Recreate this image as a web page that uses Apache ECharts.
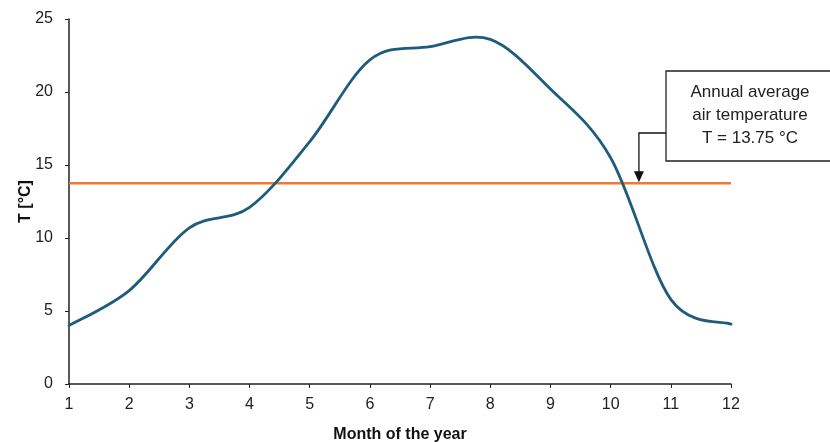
<!DOCTYPE html>
<html>
<head>
<meta charset="utf-8">
<script src="https://cdn.jsdelivr.net/npm/echarts@6/dist/echarts.min.js"></script>
<style>
html,body{margin:0;padding:0;background:#fff;}
#c{width:830px;height:442px;}
</style>
</head>
<body>
<div id="c"></div>
<script>
const months = [1,2,3,4,5,6,7,8,9,10,11,12];
const temperature = [4.0, 6.4, 10.7, 12.1, 16.6, 22.2, 23.1, 23.6, 20.2, 15.5, 5.8, 4.1];
const annualAverage = 13.75;
const yTicks = [0,5,10,15,20,25];
const annotationLines = ['Annual average', 'air temperature', 'T = 13.75 °C'];
const arrowMonth = 10.47;

const tempData = months.map((m,i)=>[m, temperature[i]]);
const avgData = [[months[0], annualAverage],[months[months.length-1], annualAverage]];

const chart = echarts.init(document.getElementById('c'), null, {renderer:'canvas'});
const tickFont = {fontFamily:'"Liberation Sans",Arial,sans-serif', fontSize:16, color:'#222'};

// Smooth curve (Catmull-Rom style, like spreadsheet smoothing) drawn through the axis scales
function renderSmooth(params, api){
  if (params.dataIndex !== 0) return null;
  const pts = tempData.map(d => api.coord(d));
  const n = pts.length;
  let path = 'M' + pts[0][0] + ' ' + pts[0][1];
  for (let i = 0; i < n - 1; i++){
    const p0 = pts[Math.max(i-1,0)], p1 = pts[i], p2 = pts[i+1], p3 = pts[Math.min(i+2,n-1)];
    const c1 = [p1[0] + (p2[0]-p0[0])/6, p1[1] + (p2[1]-p0[1])/6];
    const c2 = [p2[0] - (p3[0]-p1[0])/6, p2[1] - (p3[1]-p1[1])/6];
    path += ' C' + c1[0] + ' ' + c1[1] + ' ' + c2[0] + ' ' + c2[1] + ' ' + p2[0] + ' ' + p2[1];
  }
  return {type:'path', shape:{pathData:path}, style:{stroke:'#1E5B7C', lineWidth:2.8, fill:null, lineJoin:'round', lineCap:'round'}};
}

chart.setOption({
  animation:false,
  backgroundColor:'#fff',
  grid:{left:69,right:99,top:19,bottom:58,containLabel:false,outerBoundsMode:'none'},
  xAxis:{
    type:'value', min:1, max:12, interval:1,
    name:'Month of the year', nameLocation:'middle', nameGap:43, nameMoveOverlap:false,
    nameTextStyle:{fontFamily:'"Liberation Sans",Arial,sans-serif', fontWeight:'bold', fontSize:16, color:'#111'},
    axisLine:{lineStyle:{color:'#222',width:1.5}},
    axisTick:{show:true,length:4,lineStyle:{color:'#222'}},
    axisLabel:Object.assign({margin:13}, tickFont),
    splitLine:{show:false}
  },
  yAxis:{
    type:'value', min:yTicks[0], max:yTicks[yTicks.length-1], interval:5,
    name:'T [°C]', nameLocation:'middle', nameGap:35, nameRotate:90, nameMoveOverlap:false,
    nameTextStyle:{fontFamily:'"Liberation Sans",Arial,sans-serif', fontWeight:'bold', fontSize:16, color:'#111'},
    axisLine:{show:true,lineStyle:{color:'#222',width:1.5}},
    axisTick:{show:true,length:4,lineStyle:{color:'#222'}},
    axisLabel:Object.assign({margin:16}, tickFont),
    splitLine:{show:false}
  },
  series:[
    {type:'line', data:avgData, symbol:'none', lineStyle:{color:'#EE7A30',width:2.5}, z:2},
    {type:'custom', data:tempData, renderItem:renderSmooth, encode:{x:0,y:1}, z:3, silent:true}
  ]
});

const tip = chart.convertToPixel({gridIndex:0},[arrowMonth, annualAverage]);
const boxL = 666, boxT = 71, boxR = 834, boxB = 161;
const elbowY = 133;
chart.setOption({
  graphic:[
    {type:'rect', shape:{x:boxL,y:boxT,width:boxR-boxL,height:boxB-boxT}, style:{fill:'#fff',stroke:'#222',lineWidth:1.3}, z:10},
    {type:'text', x:750, y:(boxT+boxB)/2 - 1, style:{text:annotationLines.join('\n'), align:'center', verticalAlign:'middle', font:'17px "Liberation Sans",Arial,sans-serif', fill:'#222', lineHeight:23}, z:11},
    {type:'polyline', shape:{points:[[boxL,elbowY],[tip[0],elbowY],[tip[0],tip[1]-10]]}, style:{stroke:'#111',lineWidth:1.3,fill:null}, z:10},
    {type:'polygon', shape:{points:[[tip[0]-5,tip[1]-12],[tip[0]+5,tip[1]-12],[tip[0],tip[1]-1]]}, style:{fill:'#111'}, z:10}
  ]
});
</script>
</body>
</html>
